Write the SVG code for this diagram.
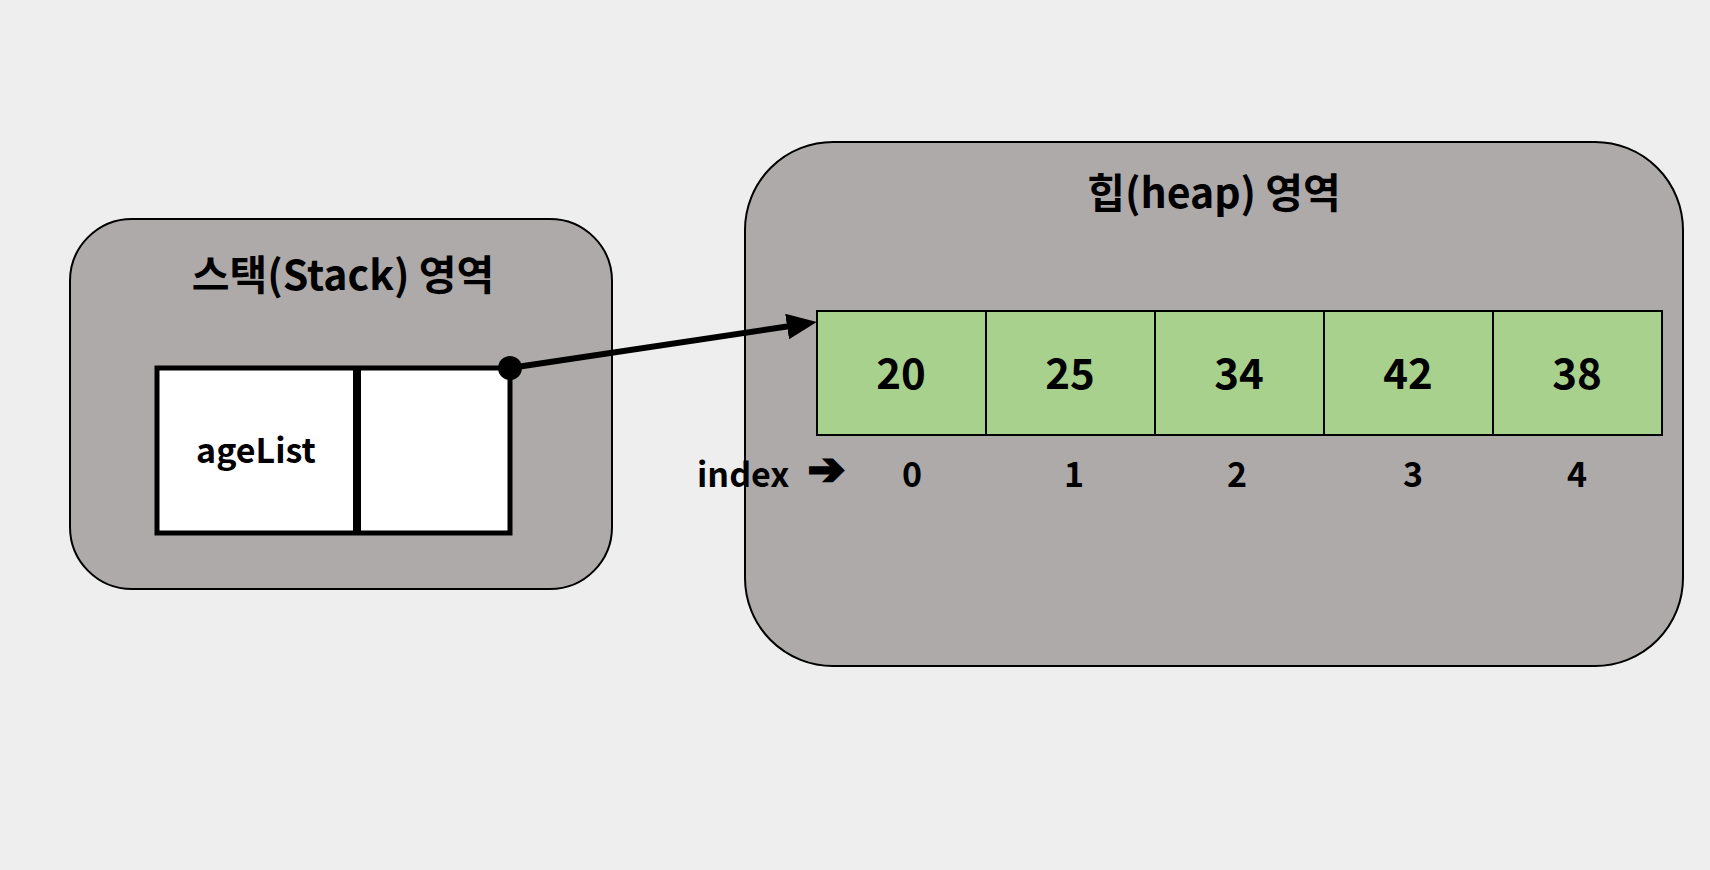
<svg xmlns="http://www.w3.org/2000/svg" width="1710" height="870" viewBox="0 0 1710 870">
<style>
.area{fill:#AEAAAA;stroke:#000;stroke-width:2}
.title{font-family:"Noto Sans CJK KR","Noto Sans",sans-serif;font-weight:bold;font-size:41px;fill:#000;text-anchor:middle}
.cell{fill:#A9D18E;stroke:#000;stroke-width:2}
.num{font-family:"Noto Sans CJK KR","Noto Sans",sans-serif;font-weight:bold;font-size:42px;fill:#000;text-anchor:middle}
.idx{font-family:"Noto Sans CJK KR","Noto Sans",sans-serif;font-weight:bold;font-size:34px;fill:#000;text-anchor:middle}
.lbl{font-family:"Noto Sans CJK KR","Noto Sans",sans-serif;font-weight:bold;font-size:34px;fill:#000;text-anchor:start}
.var{fill:#fff;stroke:#000;stroke-width:5}
</style>
<defs>
<marker id="arr" markerUnits="userSpaceOnUse" markerWidth="32" markerHeight="28" refX="10" refY="13" orient="auto">
<path d="M0,0 L30,13 L0,26 z" fill="#000"/>
</marker>
</defs>
<rect x="0" y="0" width="1710" height="870" fill="#EEEEEE"/>
<g id="stack">
<rect class="area" x="70" y="219" width="542" height="370" rx="62" ry="62"/>
<text class="title" x="343" y="290">스택(Stack) 영역</text>
</g>
<g id="heap">
<rect class="area" x="745" y="142" width="938" height="524" rx="88" ry="88"/>
<text class="title" x="1214" y="208">힙(heap) 영역</text>
</g>
<g id="ageList">
<rect class="var" x="157" y="368" width="353" height="165"/>
<line x1="357" y1="368" x2="357" y2="533" stroke="#000" stroke-width="8"/>
<text class="idx" x="256" y="463">ageList</text>
</g>
<g id="array">
<rect class="cell" x="817" y="311" width="169" height="124"/>
<rect class="cell" x="986" y="311" width="169" height="124"/>
<rect class="cell" x="1155" y="311" width="169" height="124"/>
<rect class="cell" x="1324" y="311" width="169" height="124"/>
<rect class="cell" x="1493" y="311" width="169" height="124"/>
<text class="num" x="901" y="389">20</text>
<text class="num" x="1070" y="389">25</text>
<text class="num" x="1239" y="389">34</text>
<text class="num" x="1408" y="389">42</text>
<text class="num" x="1577" y="389">38</text>
</g>
<g id="index">
<text class="lbl" x="697" y="487">index<tspan x="808" y="484" font-family="'DejaVu Sans', sans-serif" font-weight="bold" font-size="44" stroke="#000" stroke-width="3" stroke-linejoin="miter">➔</tspan></text>
<text class="idx" x="912" y="487">0</text>
<text class="idx" x="1074" y="487">1</text>
<text class="idx" x="1237" y="487">2</text>
<text class="idx" x="1413" y="487">3</text>
<text class="idx" x="1577" y="487">4</text>
</g>
<g id="connectors">
<line x1="510" y1="368" x2="797" y2="325" stroke="#000" stroke-width="6" marker-end="url(#arr)"/>
<circle cx="510" cy="368" r="12" fill="#000"/>
</g>
</svg>
